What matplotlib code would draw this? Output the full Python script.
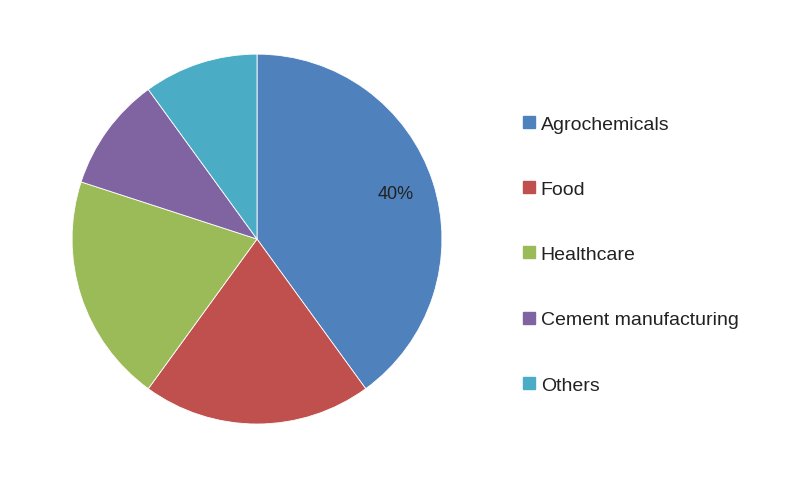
import matplotlib.pyplot as plt
from matplotlib.lines import Line2D

labels = ['Agrochemicals', 'Food', 'Healthcare', 'Cement manufacturing', 'Others']
shares = [40, 20, 20, 10, 10]
colors = ['#4F81BD', '#C0504D', '#9BBB59', '#8064A2', '#4BACC6']

plt.rcParams['font.family'] = ['Liberation Sans', 'DejaVu Sans']
fig = plt.figure(figsize=(8, 4.81), dpi=100)
ax = fig.add_axes([0.09, 0.1164, 0.4625, 0.769])

wedges, texts, autotexts = ax.pie(
    shares, colors=colors, startangle=90, counterclock=False,
    autopct=lambda p: '40%' if round(p) == 40 else '', pctdistance=0.79,
    wedgeprops=dict(edgecolor='white', linewidth=0.6))
for t in autotexts:
    t.set_fontsize(13)
    t.set_color('#222222')
ax.set_xlim(-1.0, 1.0)
ax.set_ylim(-1.0, 1.0)
ax.set_aspect('equal')

handles = [Line2D([], [], marker='s', linestyle='', markersize=8,
                  markerfacecolor=c, markeredgecolor=c) for c in colors]
fig.legend(handles, labels, loc='upper left', bbox_to_anchor=(0.625, 0.795),
           frameon=False, fontsize=14, labelspacing=2.45, handletextpad=0.0,
           handlelength=1.2, labelcolor='#222222')

fig.savefig('out.png', dpi=100)
